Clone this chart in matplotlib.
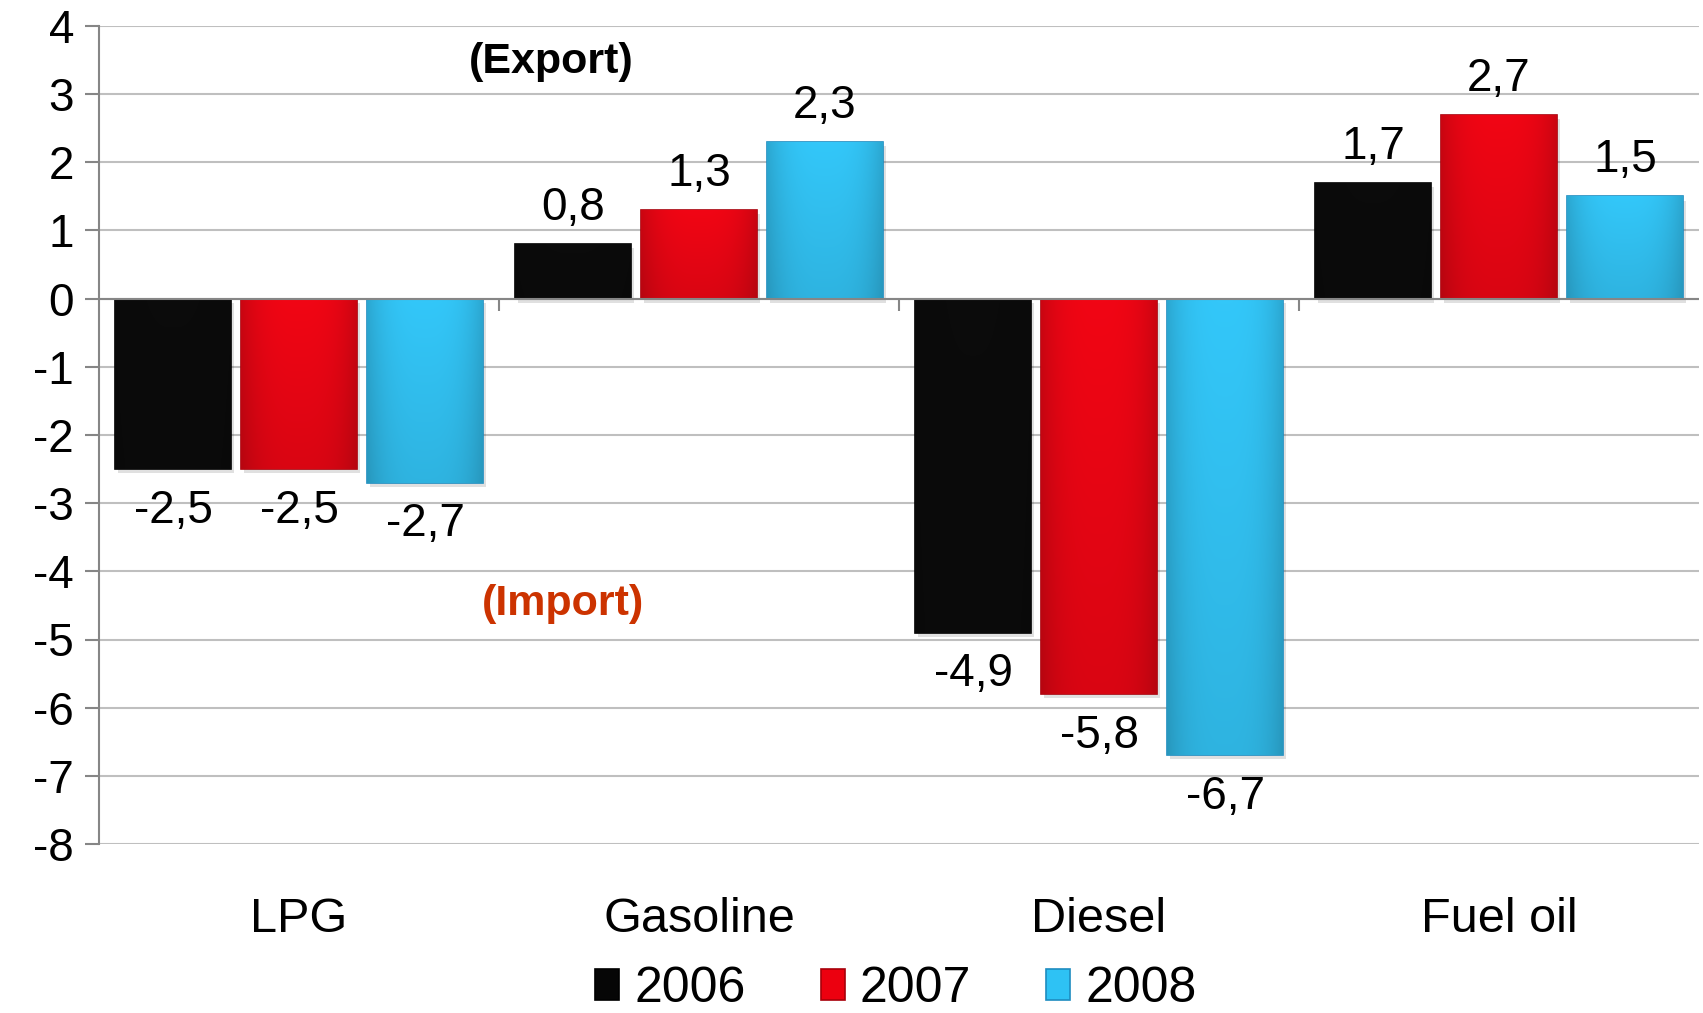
import numpy as np
import matplotlib
matplotlib.use('Agg')
import matplotlib.pyplot as plt
from matplotlib.patches import Rectangle

plt.rcParams['font.family'] = ['Liberation Sans', 'DejaVu Sans']

categories = ['LPG', 'Gasoline', 'Diesel', 'Fuel oil']
years = ['2006', '2007', '2008']
v2006 = [-2.5, 0.8, -4.9, 1.7]
v2007 = [-2.5, 1.3, -5.8, 2.7]
v2008 = [-2.7, 2.3, -6.7, 1.5]
yticks = list(range(-8, 5))

series = [v2006, v2007, v2008]
colors = ['#060606', '#EC000F', '#2EC2F4']
edges = ['#000000', '#A8000A', '#1E8CC0']

fig = plt.figure(figsize=(17.03, 10.13), dpi=100)
ax = fig.add_axes([99 / 1703, 1 - 844 / 1013, 1600 / 1703, 818 / 1013])

x = np.arange(len(categories))
w = 0.29
step = 0.315


def shade(bar, base):
    # soft bevel: darker towards the sides and slightly darker lower down
    x0, y0 = bar.get_x(), bar.get_y()
    bw, bh = bar.get_width(), bar.get_height()
    tx = np.linspace(-1, 1, 64)
    ty = np.linspace(0, 1, 64)
    prof = (1 - 0.16 * np.abs(tx) ** 3)[None, :] * (0.9 + 0.1 * ty)[:, None]
    rgb = np.array(matplotlib.colors.to_rgb(base))
    img = np.clip(rgb[None, None, :] * prof[:, :, None] + 0.02, 0, 1)
    top, bot = max(y0, y0 + bh), min(y0, y0 + bh)
    im = ax.imshow(img, extent=[x0, x0 + bw, bot, top], origin='lower',
                   aspect='auto', zorder=bar.get_zorder() + 0.1,
                   interpolation='bilinear')
    im.set_clip_path(bar)


for i, vals in enumerate(series):
    pos = x + (i - 1) * step
    # drop shadow
    for p, v in zip(pos, vals):
        ax.add_patch(Rectangle((p - w / 2 + 0.008, min(v, 0) - 0.06), w, abs(v),
                               facecolor='#000000', alpha=0.12, lw=0, zorder=2))
    bars = ax.bar(pos, vals, width=w, color=colors[i], edgecolor=edges[i],
                  linewidth=1.2, zorder=3, label=years[i])
    for b in bars:
        shade(b, colors[i])
    for p, v in zip(pos, vals):
        off = 26 if v > 0 else -30
        ax.annotate(f'{v:.1f}'.replace('.', ','), (p, v), xytext=(0, off),
                    textcoords='offset points', ha='center', va='center',
                    fontsize=33, color='black', zorder=5)

ax.set_xlim(-0.5, 3.5)
ax.set_ylim(-8, 4)
ax.set_yticks(yticks)
ax.set_yticklabels([str(t) for t in yticks])
ax.tick_params(axis='y', labelsize=33, length=10, width=1.5, color='#868686', pad=8)
ax.grid(axis='y', color='#BFBFBF', linewidth=1.5, zorder=0)
ax.set_axisbelow(True)

ax.set_xticks(x)
ax.set_xticklabels(categories)
ax.tick_params(axis='x', labelsize=35, length=0, pad=38)

for s in ['top', 'right', 'bottom']:
    ax.spines[s].set_visible(False)
ax.spines['left'].set_color('#868686')
ax.spines['left'].set_linewidth(1.5)

# category axis drawn through zero with boundary tick marks
ax.axhline(0, color='#868686', linewidth=1.5, zorder=4)
ax.vlines([0.5, 1.5, 2.5], -0.18, 0, color='#868686', linewidth=1.5, zorder=4)

ax.text(0.63, 3.47, '(Export)', fontsize=31, fontweight='bold', color='black',
        ha='center', va='center')
ax.text(0.66, -4.48, '(Import)', fontsize=31, fontweight='bold', color='#CC3300',
        ha='center', va='center')

fig.legend(loc='center', bbox_to_anchor=(0.526, 1 - 989 / 1013), ncol=3,
           frameon=False, fontsize=36, handlelength=0.48, handleheight=0.6,
           handletextpad=0.3, columnspacing=1.5, borderpad=0.1)

fig.savefig('out.png', dpi=100)
